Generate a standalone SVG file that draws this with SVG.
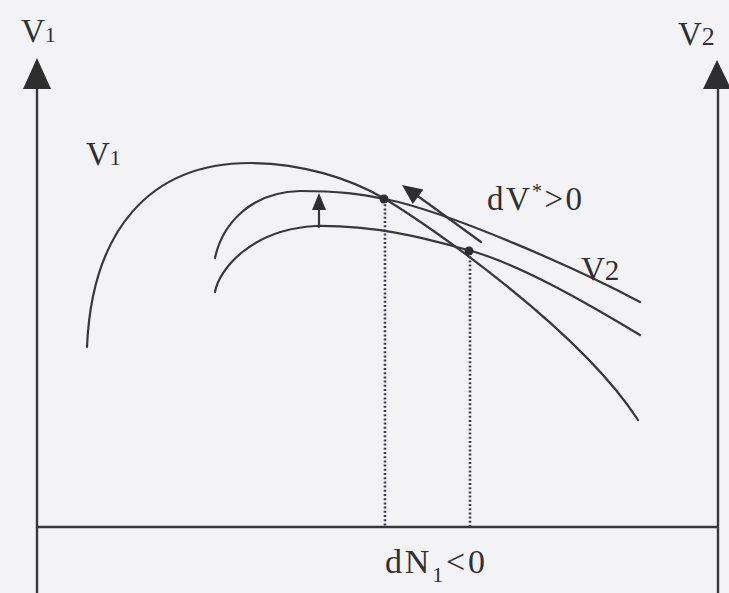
<svg xmlns="http://www.w3.org/2000/svg" width="729" height="593" viewBox="0 0 729 593">
<defs>
<style>
.ln{fill:none;stroke:#383838;stroke-width:2.2;stroke-linecap:round}
.ax{fill:none;stroke:#383838;stroke-width:2.4}
.dot{fill:none;stroke:#404048;stroke-width:2.6;stroke-dasharray:2 2.2}
.hd{fill:#2e2e2e;stroke:none}
.t{font-family:"Liberation Serif","DejaVu Serif",serif;fill:#303030}
</style>
</defs>
<rect x="0" y="0" width="729" height="593" fill="#f3f3f5"/>
<g id="axes">
<line class="ax" x1="37" y1="86" x2="37" y2="593"/>
<polygon class="hd" points="37,58 23,89 51,89"/>
<line class="ax" x1="718" y1="86" x2="718" y2="593"/>
<polygon class="hd" points="717,60 703,89 731,89"/>
<line class="ax" x1="37" y1="527" x2="718" y2="527"/>
</g>
<g id="curve-V1">
<path class="ln" d="M87,347 C92,230 150,163 250,163 C300,163 350,178 385,199 C430,226 580,330 638,420"/>
</g>
<g id="curve-upper">
<path class="ln" d="M215,258 C222,225 250,192 300,191 C340,191 360,194 385,199 C450,212 580,270 640,302"/>
</g>
<g id="curve-lower">
<path class="ln" d="M215,292 C219,270 250,230 315,226 C380,225 430,240 468,250 C520,264 590,305 640,335"/>
</g>
<g id="connectors">
<line class="dot" x1="385" y1="200" x2="385" y2="527"/>
<line class="dot" x1="470" y1="252" x2="470" y2="527"/>
<line class="ln" x1="319" y1="227" x2="319" y2="206"/>
<polygon class="hd" points="319,193 312,210 326,210"/>
<line class="ln" x1="481" y1="242" x2="415" y2="194"/>
<polygon class="hd" points="402,185 412.8,204.1 423.4,189.5"/>
</g>
<g id="points">
<circle class="hd" cx="384" cy="199" r="4.5"/>
<circle class="hd" cx="469" cy="251" r="4.5"/>
</g>
<g id="labels">
<text class="t" x="21" y="42" font-size="33">V<tspan font-size="22">1</tspan></text>
<text class="t" x="678" y="45" font-size="33">V<tspan font-size="26">2</tspan></text>
<text class="t" x="86" y="165" font-size="33">V<tspan font-size="22">1</tspan></text>
<text class="t" x="581" y="280" font-size="33">V<tspan font-size="29">2</tspan></text>
<text class="t" x="487" y="210" font-size="33" textLength="95" lengthAdjust="spacing">dV<tspan font-size="20" dy="-12">*</tspan><tspan dy="12">&gt;0</tspan></text>
<text class="t" x="385" y="573" font-size="34" textLength="100" lengthAdjust="spacing">dN<tspan font-size="22" dy="9">1</tspan><tspan dy="-9">&lt;0</tspan></text>
</g>
</svg>
